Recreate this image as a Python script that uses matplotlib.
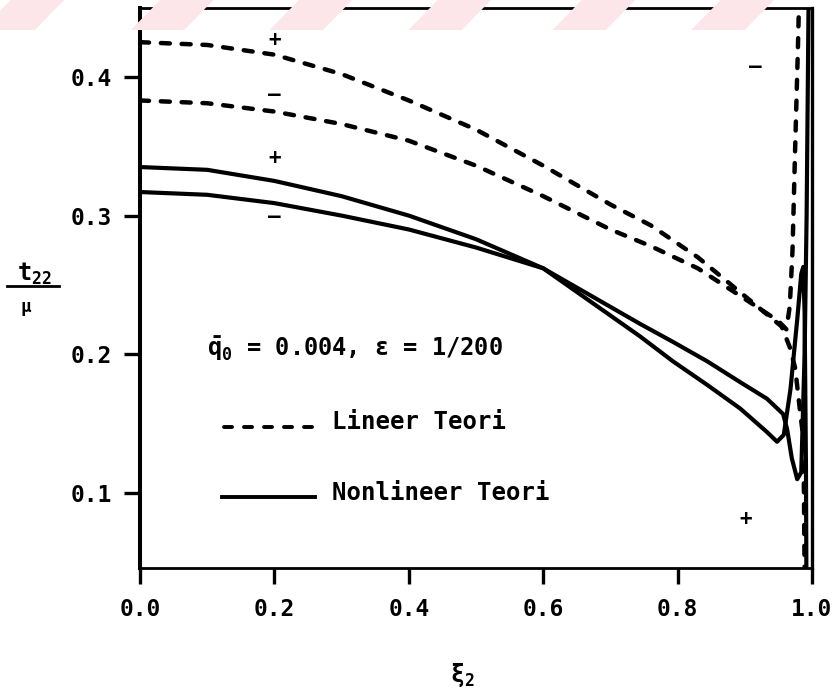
import matplotlib
matplotlib.use("Agg")
import matplotlib.pyplot as plt
from matplotlib.patches import Polygon
from matplotlib.lines import Line2D

plt.rcParams['font.family'] = ['DejaVu Sans Mono', 'DejaVu Sans']
plt.rcParams['font.weight'] = 'bold'
plt.rcParams['mathtext.fontset'] = 'custom'
plt.rcParams['mathtext.rm'] = 'DejaVu Sans Mono:bold'
plt.rcParams['mathtext.it'] = 'DejaVu Sans Mono:bold'
plt.rcParams['mathtext.bf'] = 'DejaVu Sans Mono:bold'
plt.rcParams['lines.scale_dashes'] = False

# ---- data ----
lin_plus_x = [0.0, 0.1, 0.2, 0.3, 0.4, 0.5, 0.6, 0.7, 0.76, 0.83, 0.9, 0.955, 0.967, 0.975, 0.982, 0.987, 0.988, 0.989]
lin_plus_y = [0.425, 0.423, 0.416, 0.402, 0.383, 0.362, 0.336, 0.308, 0.293, 0.270, 0.242, 0.220, 0.205, 0.190, 0.160, 0.140, 0.100, 0.040]

lin_minus_x = [0.0, 0.1, 0.2, 0.3, 0.4, 0.5, 0.6, 0.7, 0.76, 0.83, 0.9, 0.95, 0.962, 0.967, 0.971, 0.975, 0.979, 0.981]
lin_minus_y = [0.383, 0.381, 0.375, 0.366, 0.354, 0.336, 0.314, 0.290, 0.278, 0.262, 0.240, 0.224, 0.218, 0.235, 0.275, 0.350, 0.420, 0.460]

nl_plus_x = [0.0, 0.1, 0.2, 0.3, 0.4, 0.5, 0.6, 0.744, 0.793, 0.844, 0.893, 0.933, 0.948, 0.958, 0.968, 0.978, 0.984, 0.987, 0.989, 0.991, 0.992]
nl_plus_y = [0.335, 0.333, 0.325, 0.314, 0.300, 0.283, 0.262, 0.213, 0.195, 0.178, 0.161, 0.144, 0.137, 0.142, 0.175, 0.225, 0.258, 0.263, 0.230, 0.120, 0.000]

nl_minus_x = [0.0, 0.1, 0.2, 0.3, 0.4, 0.5, 0.6, 0.744, 0.793, 0.844, 0.893, 0.933, 0.957, 0.963, 0.970, 0.978, 0.984, 0.989, 0.992, 0.995]
nl_minus_y = [0.317, 0.315, 0.309, 0.300, 0.290, 0.277, 0.262, 0.222, 0.209, 0.195, 0.180, 0.168, 0.157, 0.146, 0.125, 0.110, 0.115, 0.200, 0.300, 0.460]

x_ticks = [0.0, 0.2, 0.4, 0.6, 0.8, 1.0]
x_ticklabels = ['0.0', '0.2', '0.4', '0.6', '0.8', '1.0']
y_ticks = [0.1, 0.2, 0.3, 0.4]
y_ticklabels = ['0.1', '0.2', '0.3', '0.4']

sign_x = [0.2, 0.2, 0.2, 0.2, 0.915, 0.902]
sign_y = [0.4266, 0.387, 0.3417, 0.2993, 0.4072, 0.0813]
sign_txt = ['+', '–', '+', '–', '–', '+']

fig = plt.figure(figsize=(8.37, 6.89), dpi=100)

# faint watermark stripes at top
wm = [(20, 120), (300, 400), (560, 660), (820, 920), (1090, 1190), (1350, 1450)]
for a, b in wm:
    xs = [a / 1568, b / 1568, (b - 55) / 1568, (a - 55) / 1568]
    ys = [1.0, 1.0, 1 - 30 / 689, 1 - 30 / 689]
    fig.patches.append(Polygon(list(zip(xs, ys)), closed=True, transform=fig.transFigure,
                               facecolor='#fce6e9', edgecolor='none', zorder=0))

ax = fig.add_axes([140 / 837, 1 - 568 / 689, 672 / 837, 560.5 / 689])
ax.set_facecolor('none')

dlw = 3.2
dash = (0, (6.5, 8.5))
ax.plot(lin_plus_x, lin_plus_y, color='black', lw=dlw, linestyle=dash, dash_capstyle='round')
ax.plot(lin_minus_x, lin_minus_y, color='black', lw=dlw, linestyle=dash, dash_capstyle='round')
slw = 3.0
ax.plot(nl_plus_x, nl_plus_y, color='black', lw=slw, solid_joinstyle='round')
ax.plot(nl_minus_x, nl_minus_y, color='black', lw=slw, solid_joinstyle='round')

for sx, sy, st in zip(sign_x, sign_y, sign_txt):
    ax.text(sx, sy, st, ha='center', va='center', fontsize=15, fontweight='bold')

ax.set_xlim(0.0, 1.0)
ax.set_ylim(0.046, 0.450)
ax.set_xticks(x_ticks)
ax.set_xticklabels(x_ticklabels)
ax.set_yticks(y_ticks)
ax.set_yticklabels(y_ticklabels)
ax.tick_params(axis='both', direction='out', width=2.4, labelsize=16.5)
ax.tick_params(axis='y', length=11.5, pad=8.5)
ax.tick_params(axis='x', length=11.5, pad=10)
ax.spines['left'].set_linewidth(2.9)
ax.spines['right'].set_linewidth(2.4)
ax.spines['top'].set_linewidth(2.0)
ax.spines['bottom'].set_linewidth(2.0)

# annotation text and legend-like lines
ax.text(0.0997, 0.2039, r'$\bar{\mathrm{q}}_{\mathrm{0}}$ = 0.004, ε = 1/200', fontsize=17,
        fontweight='bold', va='center', ha='left')
ax.add_line(Line2D([0.125, 0.257], [0.1476, 0.1476], color='black', lw=2.8, linestyle=(0, (5.8, 8.6)),
                   dash_capstyle='round'))
ax.text(0.2857, 0.1512, 'Lineer Teori', fontsize=17.3, fontweight='bold', va='center', ha='left')
ax.add_line(Line2D([0.122, 0.260], [0.0971, 0.0971], color='black', lw=2.8))
ax.text(0.2857, 0.1000, 'Nonlineer Teori', fontsize=17.3, fontweight='bold', va='center', ha='left')

# axis labels
fig.text(462 / 837, 1 - 675 / 689, r'$\xi_{\mathrm{2}}$', fontsize=17, ha='center', va='center')
fig.text(34 / 837, 1 - 274 / 689, r't$_{\mathrm{22}}$', fontsize=17, ha='center', va='center', fontweight='bold')
fig.add_artist(Line2D([7 / 837, 59 / 837], [1 - 286 / 689, 1 - 286 / 689], color='black', lw=2.0,
                      transform=fig.transFigure))
fig.text(26 / 837, 1 - 307 / 689, 'μ', fontsize=12.5, ha='center', va='center', fontweight='bold')

fig.savefig('out.png', dpi=100)
